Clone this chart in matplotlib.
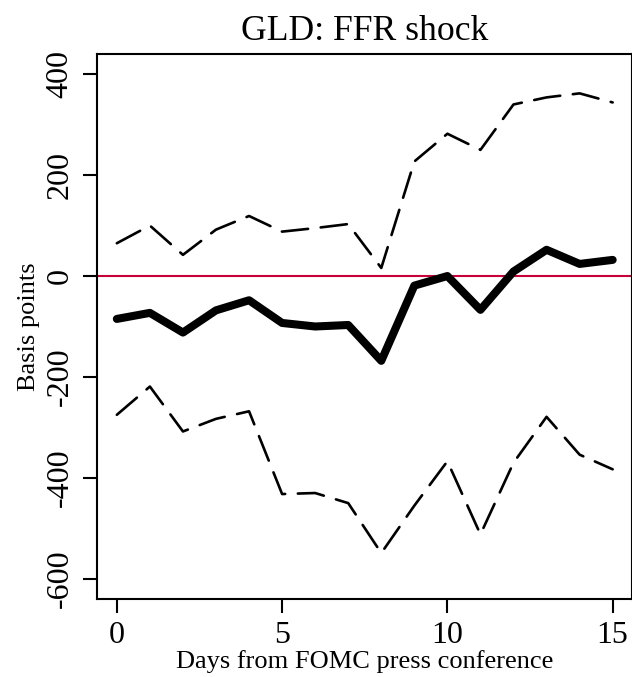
import matplotlib
matplotlib.use("Agg")
import matplotlib.pyplot as plt

days = list(range(16))
estimate = [-85, -73, -112, -68, -48, -93, -100, -97, -168, -19, 0, -67, 9, 52, 24, 32]
upper = [65, 100, 42, 92, 119, 88, 95, 103, 16, 227, 282, 250, 340, 354, 362, 344]
lower = [-275, -219, -308, -283, -268, -432, -430, -450, -549, -455, -367, -512, -370, -279, -354, -383]
xticks = [0, 5, 10, 15]
yticks = [-600, -400, -200, 0, 200, 400]

plt.rcParams['font.family'] = ['Liberation Serif', 'DejaVu Serif']

fig = plt.figure(figsize=(6.32, 6.77), dpi=100)
ax = fig.add_axes([97/632, 1-599/677, (632.5-97)/632, (599-54)/677])

ax.axhline(0, color='#C8003A', lw=1.5, zorder=1)
ax.plot(days, upper, color='black', lw=1.9, linestyle=(0, (10, 4.8)), dash_capstyle='round', dash_joinstyle='round', zorder=2)
ax.plot(days, lower, color='black', lw=1.9, linestyle=(0, (10, 4.8)), dash_capstyle='round', dash_joinstyle='round', zorder=2)
ax.plot(days, estimate, color='black', lw=5.8, solid_capstyle='round', solid_joinstyle='round', zorder=3)

ax.set_xlim(-0.6, 15.6)
ax.set_ylim(-640, 440)
ax.set_xticks(xticks)
ax.set_yticks(yticks)
ax.set_xticklabels([str(v) for v in xticks])
ax.set_yticklabels([str(v) for v in yticks], rotation=90, va='center')
ax.tick_params(axis='both', length=10, width=1.5, labelsize=23, direction='out')
ax.tick_params(axis='x', pad=6)
ax.tick_params(axis='y', pad=6)
for s in ax.spines.values():
    s.set_linewidth(1.5)

ax.set_title('GLD: FFR shock', fontsize=25.7, pad=10)
ax.set_xlabel('Days from FOMC press conference', fontsize=19, labelpad=0)
ax.set_ylabel('Basis points', fontsize=19, labelpad=4)

fig.savefig('out.png', dpi=100)
